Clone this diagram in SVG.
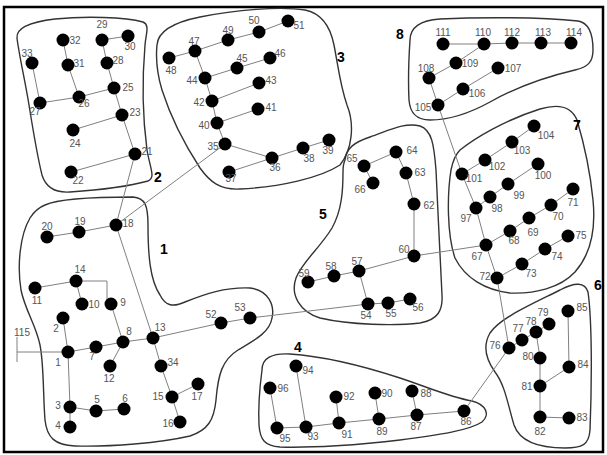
<svg xmlns="http://www.w3.org/2000/svg" width="607" height="455" viewBox="0 0 607 455">
<style>
.e{stroke:#808080;stroke-width:1;fill:none}
.o{stroke:#333;stroke-width:1.4;fill:none}
.n circle{fill:#000}
.n text{font-family:"Liberation Sans",Arial,sans-serif;font-size:10px;fill:#555;text-anchor:middle}
.c{font-family:"Liberation Sans",Arial,sans-serif;font-size:14px;font-weight:bold;fill:#000;text-anchor:middle}
</style>
<rect x="0" y="0" width="607" height="455" fill="#fff"/>
<rect x="4" y="7" width="599" height="445" fill="none" stroke="#000" stroke-width="2.5"/>
<g id="clusters">
<path class="o" d="M17,38 C16,28 30,22 55,19 C85,16 125,17 143,22 C150,25 146,33 145,45 C142,80 143,120 147,150 C150,168 156,178 148,181 C130,186 100,190 70,192 C55,193 46,188 42,175 C37,155 33,130 29,105 C25,80 19,55 17,38 Z"/>
<path class="o" d="M157,45 C158,30 175,22 200,17 C235,10 280,6 305,10 C320,13 330,25 334,45 C338,65 340,85 347,105 C355,125 352,150 340,165 C320,178 280,187 240,189 C220,190 210,182 200,168 C185,145 170,115 162,90 C156,70 156,55 157,45 Z"/>
<path class="o" d="M410,40 C410,28 420,20 440,19 C480,17 540,17 578,21 C590,23 593,35 593,50 C593,62 588,67 575,70 C545,77 515,88 490,102 C470,113 450,120 430,120 C415,120 410,112 409,100 C408,80 409,55 410,40 Z"/>
<path class="o" d="M460,150 C475,138 505,120 540,109 C560,103 572,108 577,120 C583,140 590,170 593,200 C596,230 590,255 575,272 C560,288 535,294 510,293 C485,290 465,278 455,258 C447,235 447,195 451,170 C453,160 455,155 460,150 Z"/>
<path class="o" d="M345,160 C346,148 355,142 370,137 C390,130 405,122 420,126 C432,130 434,145 436,170 C438,210 440,260 442,295 C443,310 438,320 420,323 C395,326 350,325 320,318 C300,312 290,295 296,278 C302,262 320,248 332,228 C342,210 343,190 343,172 C343,166 344,162 345,160 Z"/>
<path class="o" d="M262,370 C262,358 272,353 290,354 C320,356 360,365 400,378 C430,388 450,397 472,401 C487,405 490,415 482,422 C470,430 440,435 400,440 C360,445 310,448 280,447 C265,446 260,440 259,425 C258,405 260,385 262,370 Z"/>
<path class="o" d="M490,333 C500,318 530,305 560,290 C575,282 585,282 588,292 C592,320 592,380 590,430 C589,445 582,448 565,448 C540,448 520,442 514,425 C508,405 505,385 495,372 C485,358 483,345 490,333 Z"/>
<path class="o" d="M45,205 C60,198 100,197 133,197 C145,198 148,205 148,225 C148,255 150,280 160,295 C165,305 172,308 185,302 C205,294 225,287 250,288 C268,290 275,305 272,318 C270,332 255,340 238,350 C222,360 218,375 216,400 C214,420 208,430 190,436 C160,443 110,447 75,446 C55,445 47,438 45,420 C43,395 44,365 40,345 C36,325 25,310 21,290 C17,265 20,235 30,218 C35,210 40,207 45,205 Z"/>
<text class="c" x="164" y="254">1</text>
<text class="c" x="158" y="182">2</text>
<text class="c" x="341" y="62">3</text>
<text class="c" x="298" y="352">4</text>
<text class="c" x="323" y="219">5</text>
<text class="c" x="598" y="290">6</text>
<text class="c" x="577" y="130">7</text>
<text class="c" x="400" y="39">8</text>
</g>
<g id="connectors">
<path class="e" d="M68,352 L63,318 M68,352 L96,347 L123,342 L111,304 M123,342 L110,366 M123,342 L153,338 M76,281 L35,288 M76,281 L82,304 M76,281 H107 V304 M68,352 L70,407 L70,427 M70,407 L96,411 L124,409 M153,338 L221,323 L250,318 L368,304 M153,338 L161,366 L172,397 L198,384 M172,397 L180,422 M116,225 L79,232 L47,237 M116,225 L153,338 M135,154 L116,225 M225,144 L116,225"/>
<path class="e" d="M17,352 H68 M17,337 V362"/>
<path class="e" d="M63,40 L68,65 L79,97 M102,40 L128,36 M102,40 L107,63 L114,88 L79,97 L40,103 L32,63 M114,88 L122,115 L73,130 M122,115 L135,154 L71,172"/>
<path class="e" d="M169,58 L195,51 L228,40 L259,32 L288,21 M195,51 L205,78 L237,68 L270,58 M205,78 L212,101 L259,83 M212,101 L217,123 L258,109 M217,123 L225,144 L272,158 L229,172 M272,158 L303,148 L329,140"/>
<path class="e" d="M364,166 L396,152 L406,173 L414,204 L414,256 L359,271 L334,276 L308,282 M364,166 L373,183 M359,271 L368,304 L388,303 L410,299 M414,256 L486,245"/>
<path class="e" d="M438,105 L462,174 L476,208 L486,245 L497,278 L509,348 M462,174 L485,160 L512,142 L534,126 M476,208 L490,197 L508,184 L538,164 M486,245 L510,231 L529,218 L551,205 L573,189 M497,278 L522,264 L545,249 L568,236"/>
<path class="e" d="M509,348 L522,340 L536,332 L549,324 M536,332 L540,358 L540,386 L540,417 L569,418 M540,386 L569,367 L568,311 M509,348 L464,411"/>
<path class="e" d="M270,388 L277,428 L306,427 L296,366 M306,427 L339,423 L336,397 M339,423 L379,419 L375,393 M379,419 L417,415 L412,391 M417,415 L464,411"/>
<path class="e" d="M443,44 L484,44 L512,43 L541,43 L571,43 M484,44 L456,63 L429,78 L438,105 L463,89 L498,68"/>
</g>
<g id="nodes">
<g id="n1" class="n"><circle cx="68" cy="352" r="6.5"/><text x="58" y="366">1</text></g>
<g id="n2" class="n"><circle cx="63" cy="318" r="6.5"/><text x="56" y="332">2</text></g>
<g id="n3" class="n"><circle cx="70" cy="407" r="6.5"/><text x="58" y="409">3</text></g>
<g id="n4" class="n"><circle cx="70" cy="427" r="6.5"/><text x="58" y="429">4</text></g>
<g id="n5" class="n"><circle cx="96" cy="411" r="6.5"/><text x="97" y="403">5</text></g>
<g id="n6" class="n"><circle cx="124" cy="409" r="6.5"/><text x="125" y="402">6</text></g>
<g id="n7" class="n"><circle cx="96" cy="347" r="6.5"/><text x="92" y="360">7</text></g>
<g id="n8" class="n"><circle cx="123" cy="342" r="6.5"/><text x="129" y="335">8</text></g>
<g id="n9" class="n"><circle cx="111" cy="304" r="6.5"/><text x="123" y="306">9</text></g>
<g id="n10" class="n"><circle cx="82" cy="304" r="6.5"/><text x="94" y="308">10</text></g>
<g id="n11" class="n"><circle cx="35" cy="288" r="6.5"/><text x="37" y="304">11</text></g>
<g id="n12" class="n"><circle cx="110" cy="366" r="6.5"/><text x="109" y="382">12</text></g>
<g id="n13" class="n"><circle cx="153" cy="338" r="6.5"/><text x="160" y="331">13</text></g>
<g id="n14" class="n"><circle cx="76" cy="281" r="6.5"/><text x="80" y="273">14</text></g>
<g id="n15" class="n"><circle cx="172" cy="397" r="6.5"/><text x="158" y="400">15</text></g>
<g id="n16" class="n"><circle cx="180" cy="422" r="6.5"/><text x="168" y="427">16</text></g>
<g id="n17" class="n"><circle cx="198" cy="384" r="6.5"/><text x="197" y="400">17</text></g>
<g id="n18" class="n"><circle cx="116" cy="225" r="6.5"/><text x="128" y="227">18</text></g>
<g id="n19" class="n"><circle cx="79" cy="232" r="6.5"/><text x="80" y="225">19</text></g>
<g id="n20" class="n"><circle cx="47" cy="237" r="6.5"/><text x="47" y="230">20</text></g>
<g id="n21" class="n"><circle cx="135" cy="154" r="6.5"/><text x="147" y="155">21</text></g>
<g id="n22" class="n"><circle cx="71" cy="172" r="6.5"/><text x="78" y="184">22</text></g>
<g id="n23" class="n"><circle cx="122" cy="115" r="6.5"/><text x="135" y="116">23</text></g>
<g id="n24" class="n"><circle cx="73" cy="130" r="6.5"/><text x="75" y="147">24</text></g>
<g id="n25" class="n"><circle cx="114" cy="88" r="6.5"/><text x="128" y="91">25</text></g>
<g id="n26" class="n"><circle cx="79" cy="97" r="6.5"/><text x="84" y="107">26</text></g>
<g id="n27" class="n"><circle cx="40" cy="103" r="6.5"/><text x="35" y="115">27</text></g>
<g id="n28" class="n"><circle cx="107" cy="63" r="6.5"/><text x="118" y="64">28</text></g>
<g id="n29" class="n"><circle cx="102" cy="40" r="6.5"/><text x="102" y="28">29</text></g>
<g id="n30" class="n"><circle cx="128" cy="36" r="6.5"/><text x="130" y="50">30</text></g>
<g id="n31" class="n"><circle cx="68" cy="65" r="6.5"/><text x="79" y="67">31</text></g>
<g id="n32" class="n"><circle cx="63" cy="40" r="6.5"/><text x="75" y="44">32</text></g>
<g id="n33" class="n"><circle cx="32" cy="63" r="6.5"/><text x="27" y="57">33</text></g>
<g id="n34" class="n"><circle cx="161" cy="366" r="6.5"/><text x="173" y="366">34</text></g>
<g id="n35" class="n"><circle cx="225" cy="144" r="6.5"/><text x="213" y="150">35</text></g>
<g id="n36" class="n"><circle cx="272" cy="158" r="6.5"/><text x="275" y="171">36</text></g>
<g id="n37" class="n"><circle cx="229" cy="172" r="6.5"/><text x="231" y="182">37</text></g>
<g id="n38" class="n"><circle cx="303" cy="148" r="6.5"/><text x="309" y="162">38</text></g>
<g id="n39" class="n"><circle cx="329" cy="140" r="6.5"/><text x="328" y="154">39</text></g>
<g id="n40" class="n"><circle cx="217" cy="123" r="6.5"/><text x="204" y="129">40</text></g>
<g id="n41" class="n"><circle cx="258" cy="109" r="6.5"/><text x="271" y="111">41</text></g>
<g id="n42" class="n"><circle cx="212" cy="101" r="6.5"/><text x="199" y="106">42</text></g>
<g id="n43" class="n"><circle cx="259" cy="83" r="6.5"/><text x="271" y="84">43</text></g>
<g id="n44" class="n"><circle cx="205" cy="78" r="6.5"/><text x="192" y="84">44</text></g>
<g id="n45" class="n"><circle cx="237" cy="68" r="6.5"/><text x="242" y="62">45</text></g>
<g id="n46" class="n"><circle cx="270" cy="58" r="6.5"/><text x="280" y="57">46</text></g>
<g id="n47" class="n"><circle cx="195" cy="51" r="6.5"/><text x="194" y="45">47</text></g>
<g id="n48" class="n"><circle cx="169" cy="58" r="6.5"/><text x="171" y="74">48</text></g>
<g id="n49" class="n"><circle cx="228" cy="40" r="6.5"/><text x="228" y="34">49</text></g>
<g id="n50" class="n"><circle cx="259" cy="32" r="6.5"/><text x="254" y="24">50</text></g>
<g id="n51" class="n"><circle cx="288" cy="21" r="6.5"/><text x="299" y="29">51</text></g>
<g id="n52" class="n"><circle cx="221" cy="323" r="6.5"/><text x="211" y="318">52</text></g>
<g id="n53" class="n"><circle cx="250" cy="318" r="6.5"/><text x="240" y="311">53</text></g>
<g id="n54" class="n"><circle cx="368" cy="304" r="6.5"/><text x="366" y="319">54</text></g>
<g id="n55" class="n"><circle cx="388" cy="303" r="6.5"/><text x="391" y="317">55</text></g>
<g id="n56" class="n"><circle cx="410" cy="299" r="6.5"/><text x="418" y="311">56</text></g>
<g id="n57" class="n"><circle cx="359" cy="271" r="6.5"/><text x="357" y="265">57</text></g>
<g id="n58" class="n"><circle cx="334" cy="276" r="6.5"/><text x="331" y="270">58</text></g>
<g id="n59" class="n"><circle cx="308" cy="282" r="6.5"/><text x="304" y="277">59</text></g>
<g id="n60" class="n"><circle cx="414" cy="256" r="6.5"/><text x="404" y="253">60</text></g>
<g id="n62" class="n"><circle cx="414" cy="204" r="6.5"/><text x="429" y="209">62</text></g>
<g id="n63" class="n"><circle cx="406" cy="173" r="6.5"/><text x="420" y="176">63</text></g>
<g id="n64" class="n"><circle cx="396" cy="152" r="6.5"/><text x="412" y="154">64</text></g>
<g id="n65" class="n"><circle cx="364" cy="166" r="6.5"/><text x="352" y="162">65</text></g>
<g id="n66" class="n"><circle cx="373" cy="183" r="6.5"/><text x="360" y="193">66</text></g>
<g id="n67" class="n"><circle cx="486" cy="245" r="6.5"/><text x="477" y="260">67</text></g>
<g id="n68" class="n"><circle cx="510" cy="231" r="6.5"/><text x="514" y="244">68</text></g>
<g id="n69" class="n"><circle cx="529" cy="218" r="6.5"/><text x="533" y="236">69</text></g>
<g id="n70" class="n"><circle cx="551" cy="205" r="6.5"/><text x="558" y="220">70</text></g>
<g id="n71" class="n"><circle cx="573" cy="189" r="6.5"/><text x="573" y="206">71</text></g>
<g id="n72" class="n"><circle cx="497" cy="278" r="6.5"/><text x="485" y="280">72</text></g>
<g id="n73" class="n"><circle cx="522" cy="264" r="6.5"/><text x="531" y="277">73</text></g>
<g id="n74" class="n"><circle cx="545" cy="249" r="6.5"/><text x="557" y="260">74</text></g>
<g id="n75" class="n"><circle cx="568" cy="236" r="6.5"/><text x="581" y="239">75</text></g>
<g id="n76" class="n"><circle cx="509" cy="348" r="6.5"/><text x="495" y="349">76</text></g>
<g id="n77" class="n"><circle cx="522" cy="340" r="6.5"/><text x="518" y="332">77</text></g>
<g id="n78" class="n"><circle cx="536" cy="332" r="6.5"/><text x="531" y="325">78</text></g>
<g id="n79" class="n"><circle cx="549" cy="324" r="6.5"/><text x="543" y="316">79</text></g>
<g id="n80" class="n"><circle cx="540" cy="358" r="6.5"/><text x="528" y="360">80</text></g>
<g id="n81" class="n"><circle cx="540" cy="386" r="6.5"/><text x="527" y="390">81</text></g>
<g id="n82" class="n"><circle cx="540" cy="417" r="6.5"/><text x="540" y="435">82</text></g>
<g id="n83" class="n"><circle cx="569" cy="418" r="6.5"/><text x="582" y="421">83</text></g>
<g id="n84" class="n"><circle cx="569" cy="367" r="6.5"/><text x="583" y="368">84</text></g>
<g id="n85" class="n"><circle cx="568" cy="311" r="6.5"/><text x="582" y="311">85</text></g>
<g id="n86" class="n"><circle cx="464" cy="411" r="6.5"/><text x="466" y="425">86</text></g>
<g id="n87" class="n"><circle cx="417" cy="415" r="6.5"/><text x="416" y="430">87</text></g>
<g id="n88" class="n"><circle cx="412" cy="391" r="6.5"/><text x="426" y="397">88</text></g>
<g id="n89" class="n"><circle cx="379" cy="419" r="6.5"/><text x="382" y="435">89</text></g>
<g id="n90" class="n"><circle cx="375" cy="393" r="6.5"/><text x="387" y="397">90</text></g>
<g id="n91" class="n"><circle cx="339" cy="423" r="6.5"/><text x="347" y="438">91</text></g>
<g id="n92" class="n"><circle cx="336" cy="397" r="6.5"/><text x="349" y="400">92</text></g>
<g id="n93" class="n"><circle cx="306" cy="427" r="6.5"/><text x="313" y="440">93</text></g>
<g id="n94" class="n"><circle cx="296" cy="366" r="6.5"/><text x="308" y="374">94</text></g>
<g id="n95" class="n"><circle cx="277" cy="428" r="6.5"/><text x="285" y="442">95</text></g>
<g id="n96" class="n"><circle cx="270" cy="388" r="6.5"/><text x="283" y="392">96</text></g>
<g id="n97" class="n"><circle cx="476" cy="208" r="6.5"/><text x="466" y="222">97</text></g>
<g id="n98" class="n"><circle cx="490" cy="197" r="6.5"/><text x="497" y="212">98</text></g>
<g id="n99" class="n"><circle cx="508" cy="184" r="6.5"/><text x="519" y="199">99</text></g>
<g id="n100" class="n"><circle cx="538" cy="164" r="6.5"/><text x="543" y="179">100</text></g>
<g id="n101" class="n"><circle cx="462" cy="174" r="6.5"/><text x="474" y="182">101</text></g>
<g id="n102" class="n"><circle cx="485" cy="160" r="6.5"/><text x="497" y="170">102</text></g>
<g id="n103" class="n"><circle cx="512" cy="142" r="6.5"/><text x="522" y="154">103</text></g>
<g id="n104" class="n"><circle cx="534" cy="126" r="6.5"/><text x="546" y="139">104</text></g>
<g id="n105" class="n"><circle cx="438" cy="105" r="6.5"/><text x="423" y="111">105</text></g>
<g id="n106" class="n"><circle cx="463" cy="89" r="6.5"/><text x="477" y="97">106</text></g>
<g id="n107" class="n"><circle cx="498" cy="68" r="6.5"/><text x="513" y="72">107</text></g>
<g id="n108" class="n"><circle cx="429" cy="78" r="6.5"/><text x="426" y="72">108</text></g>
<g id="n109" class="n"><circle cx="456" cy="63" r="6.5"/><text x="470" y="67">109</text></g>
<g id="n110" class="n"><circle cx="484" cy="44" r="6.5"/><text x="483" y="36">110</text></g>
<g id="n111" class="n"><circle cx="443" cy="44" r="6.5"/><text x="443" y="36">111</text></g>
<g id="n112" class="n"><circle cx="512" cy="43" r="6.5"/><text x="512" y="36">112</text></g>
<g id="n113" class="n"><circle cx="541" cy="43" r="6.5"/><text x="543" y="36">113</text></g>
<g id="n114" class="n"><circle cx="571" cy="43" r="6.5"/><text x="574" y="36">114</text></g>
<g id="n115" class="n"><text x="22" y="336">115</text></g>
</g>
</svg>
